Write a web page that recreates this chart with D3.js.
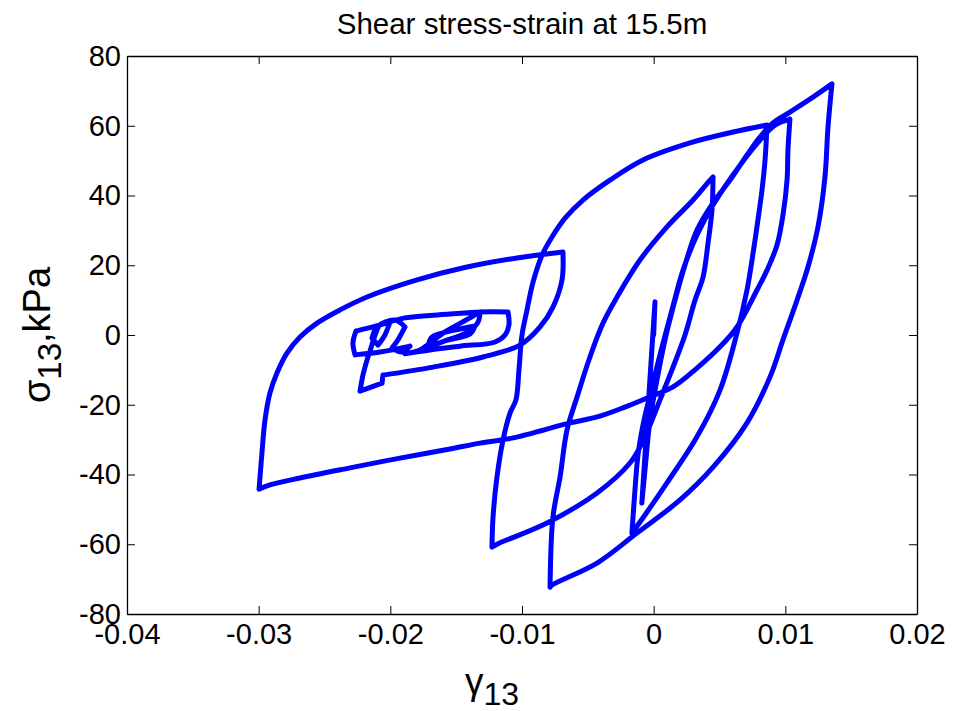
<!DOCTYPE html>
<html>
<head>
<meta charset="utf-8">
<script src="https://cdn.jsdelivr.net/npm/d3@7"></script>
<style>
  html, body { margin: 0; padding: 0; background: #fff; }
  svg { display: block; }
  text { font-family: "Liberation Sans", Arial, Helvetica, sans-serif; fill: #000; }
</style>
</head>
<body>
<svg id="chart" width="967" height="711"></svg>
<script>
// ---- data ----
const chartTitle = "Shear stress-strain at 15.5m";
const xTicks = [-0.04, -0.03, -0.02, -0.01, 0, 0.01, 0.02];
const xTickLabels = ["-0.04", "-0.03", "-0.02", "-0.01", "0", "0.01", "0.02"];
const yTicks = [-80, -60, -40, -20, 0, 20, 40, 60, 80];
const yTickLabels = ["-80", "-60", "-40", "-20", "0", "20", "40", "60", "80"];

// shear strain gamma_13 (chronological path)
const strain = [
  0.0000, 0.0001, -0.0009,
  -0.00066, -0.00028, 0.00025, 0.00086, 0.00162, 0.00238, 0.00329, 0.00451, 0.0058, 0.00709, 0.00808, 0.00906, 0.01035, 0.0121, 0.01354,
  0.01324, 0.01301, 0.01248, 0.01172, 0.01089, 0.00982, 0.00884, 0.00709, 0.00451, 0.002, -0.00127, -0.0043, -0.00772, -0.00787,
  -0.00765, -0.00711, -0.00658, -0.00582, -0.00484, -0.00385, -0.00278, -0.00104, 0.00101, 0.00299, 0.00428, 0.00451,
  0.00443, 0.00413, 0.00375, 0.00314, 0.00238, 0.00139, 0.00048, -0.00028, -0.00104, -0.0018, -0.0043, -0.0081, -0.01167, -0.01228,
  -0.0122, -0.0119, -0.01144, -0.01091, -0.01046, -0.01023, -0.0100, -0.00962, -0.00916, -0.00848, -0.00772, -0.00673, -0.00537, -0.00332, -0.00081, 0.00276, 0.00603, 0.00861,
  0.00846, 0.00823, 0.00792, 0.00747, 0.00709, 0.00633, 0.00504, 0.00329, 0.00101, -0.00066, -0.00165,
  -0.00142, -0.00119, -0.00081, -0.00028, 0.00048, 0.00139, 0.00223, 0.00329, 0.00451, 0.00656, 0.00808, 0.00922, 0.01035,
  0.0102, 0.01013, 0.00982, 0.00937, 0.00861, 0.00785, 0.00633, 0.00504, 0.00329, 0.00147, -0.00051, -0.00233, -0.0043, -0.00635, -0.01068, -0.01319, -0.01547, -0.01927, -0.02306, -0.02686, -0.02914, -0.02997,
  -0.02975, -0.02952, -0.02914, -0.02861, -0.02785, -0.02686, -0.02557, -0.02382, -0.02177, -0.01797, -0.01418, -0.01038, -0.00689,
  -0.00696, -0.00765, -0.00863, -0.01015, -0.01296, -0.01676, -0.02056, -0.02063, -0.0223,
  -0.02208, -0.02177, -0.02147, -0.02116, -0.02078, -0.02003, -0.02041, -0.02094, -0.02139, -0.02101, -0.01965, -0.01889, -0.01942, -0.01987, -0.01911, -0.01851,
  -0.02078, -0.02268, -0.02284, -0.02261, -0.02078, -0.01889, -0.01547, -0.01319, -0.01106, -0.01099, -0.01129, -0.01205, -0.01471, -0.01699, -0.01889,
  -0.01775, -0.01699, -0.01585, -0.01395, -0.01319, -0.01334, -0.0141, -0.01585, -0.01714,
  -0.01684, -0.01547, -0.01357, -0.01395, -0.01585, -0.01684
];
// shear stress sigma_13, kPa
const stress = [
  0.0, 9.5, -48.2,
  -38.7, -24.4, -12.9, -1.4, 10.0, 20.1, 30.1, 37.9, 44.4, 51.6, 56.8, 60.8, 63.9, 68.2, 72.0,
  59.6, 45.3, 31.0, 19.5, 10.0, -1.4, -12.0, -25.2, -37.9, -47.3, -56.8, -65.4, -71.7, -72.3,
  -52.2, -40.7, -27.2, -17.8, -6.3, 3.4, 10.9, 21.5, 31.0, 38.7, 44.4, 45.3,
  35.8, 26.4, 16.6, 10.0, 0.0, -10.0, -18.6, -25.8, -32.1, -36.7, -45.3, -53.9, -59.6, -60.8,
  -52.2, -40.7, -30.1, -22.4, -18.6, -10.0, 0.0, 7.2, 15.2, 22.9, 28.1, 33.5, 38.7, 44.4, 50.2, 55.1, 58.2, 60.2,
  50.2, 41.6, 33.0, 21.5, 12.9, 0.6, -15.8, -29.2, -42.4, -51.6, -56.8,
  -44.4, -34.4, -25.8, -17.2, -5.7, 7.2, 18.6, 28.7, 37.3, 48.7, 55.9, 60.2, 61.9,
  53.0, 44.4, 34.4, 25.8, 18.6, 12.9, 2.3, -3.4, -9.5, -14.9, -18.1, -20.9, -23.5, -25.2, -29.5, -31.0, -32.7, -35.3, -38.1, -41.0, -43.0, -44.2,
  -33.8, -24.4, -16.6, -10.9, -5.2, -0.6, 3.4, 7.2, 10.9, 15.8, 19.5, 22.1, 23.8,
  15.8, 8.0, 2.3, -2.9, -6.3, -9.2, -11.5, -13.8, -16.1,
  -11.5, -7.2, -3.7, 0.0, 2.9, 3.7, 0.0, -2.9, -0.9, 2.3, 4.3, 2.3, -1.4, -3.7, -4.9, -3.2,
  -4.9, -5.7, -2.3, 1.1, 2.9, 4.9, 6.0, 6.6, 6.6, 2.9, 0.0, -2.0, -3.2, -4.3, -5.4,
  -4.3, -2.3, 0.9, 4.9, 6.6, 3.7, 0.9, -1.7, -3.4,
  -0.6, 1.1, 2.6, 0.3, -1.7, -3.2
];

// ---- layout ----
const svg = d3.select("#chart");
const L = 127, R = 917, T = 56, B = 614;
const x = d3.scaleLinear().domain([-0.04, 0.02]).range([L, R]);
const y = d3.scaleLinear().domain([-80, 80]).range([B, T]);
const tickLen = 8;
const fs = 29;

// split the path at sharp load reversals so the smoothing keeps corners crisp
const pts = strain.map((s, i) => [s, stress[i]]);
const px = pts.map(d => [x(d[0]), y(d[1])]);
const segments = [];
let cur = [pts[0]];
for (let i = 1; i < pts.length; i++) {
  cur.push(pts[i]);
  if (i < pts.length - 1) {
    const ax = px[i][0] - px[i - 1][0], ay = px[i][1] - px[i - 1][1];
    const bx = px[i + 1][0] - px[i][0], by = px[i + 1][1] - px[i][1];
    const cos = (ax * bx + ay * by) / (Math.hypot(ax, ay) * Math.hypot(bx, by) || 1);
    if (cos < 0.5) { segments.push(cur); cur = [pts[i]]; }
  }
}
segments.push(cur);

const line = d3.line()
  .x(d => x(d[0])).y(d => y(d[1]))
  .curve(d3.curveCatmullRom.alpha(0.5));

svg.append("path")
  .attr("d", segments.map(s => line(s)).join(""))
  .attr("fill", "none")
  .attr("stroke", "#0000ff")
  .attr("stroke-width", 5)
  .attr("stroke-linejoin", "round")
  .attr("stroke-linecap", "round");

// axes (MATLAB style: inward ticks on all sides, box)
function styleAxis(g) {
  g.select(".domain").attr("stroke", "#000").attr("stroke-width", 1.3);
  g.selectAll(".tick line").attr("stroke", "#000").attr("stroke-width", 1);
  g.selectAll(".tick text").attr("font-size", fs).attr("fill", "#000")
    .style("font-family", '"Liberation Sans", Arial, sans-serif');
}

const xAxis = svg.append("g").attr("transform", `translate(0,${B})`)
  .call(d3.axisBottom(x).tickValues(xTicks)
    .tickFormat((d, i) => xTickLabels[i]).tickSizeInner(-tickLen).tickSizeOuter(0).tickPadding(9));
styleAxis(xAxis);

const xAxisTop = svg.append("g").attr("transform", `translate(0,${T})`)
  .call(d3.axisTop(x).tickValues(xTicks).tickFormat("").tickSizeInner(-tickLen).tickSizeOuter(0));
styleAxis(xAxisTop);

const yAxis = svg.append("g").attr("transform", `translate(${L},0)`)
  .call(d3.axisLeft(y).tickValues(yTicks)
    .tickFormat((d, i) => yTickLabels[i]).tickSizeInner(-tickLen).tickSizeOuter(0).tickPadding(6));
styleAxis(yAxis);

const yAxisRight = svg.append("g").attr("transform", `translate(${R},0)`)
  .call(d3.axisRight(y).tickValues(yTicks).tickFormat("").tickSizeInner(-tickLen).tickSizeOuter(0));
styleAxis(yAxisRight);

// title
svg.append("text")
  .attr("x", (L + R) / 2).attr("y", 34)
  .attr("text-anchor", "middle")
  .attr("font-size", 29.5)
  .text(chartTitle);

// x label: gamma_13
const xl = svg.append("text")
  .attr("x", (L + R) / 2 - 30).attr("y", 694)
  .attr("text-anchor", "middle")
  .attr("font-size", 37);
xl.append("tspan").text("γ");
xl.append("tspan").attr("font-size", 32).attr("dy", 11).text("13");

// y label: sigma_13,kPa
const yl = svg.append("text")
  .attr("transform", `translate(50,${(T + B) / 2}) rotate(-90)`)
  .attr("text-anchor", "middle")
  .attr("font-size", 38);
yl.append("tspan").text("σ");
yl.append("tspan").attr("font-size", 33).attr("dy", 11).text("13");
yl.append("tspan").attr("dy", -11).text(",kPa");
</script>
</body>
</html>
